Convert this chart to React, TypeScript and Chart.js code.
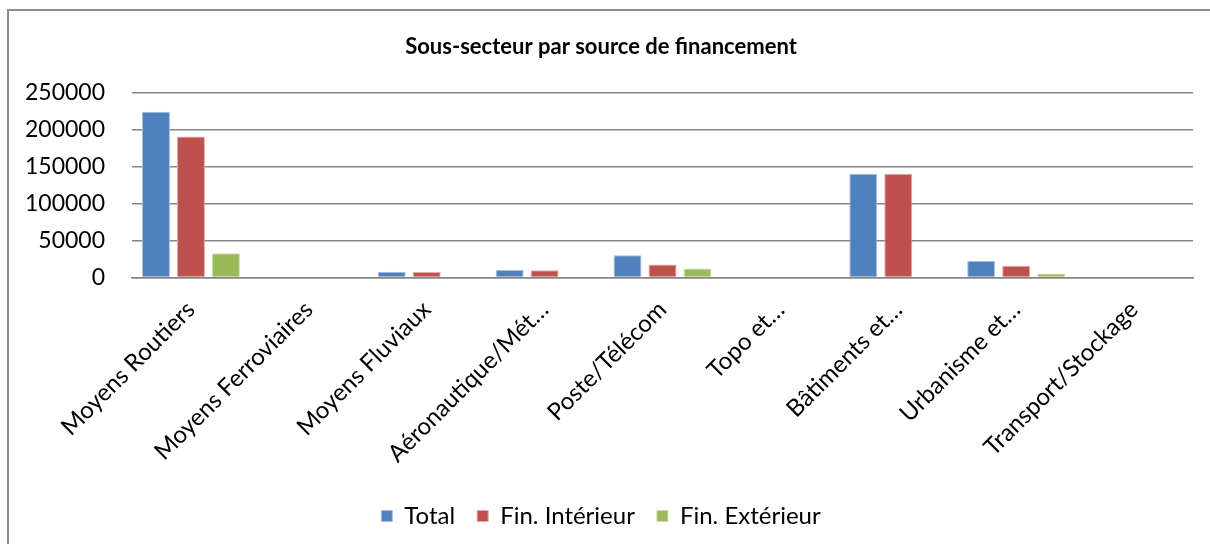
import React, { useEffect, useRef } from "react";
import { Chart, registerables } from "chart.js";

Chart.register(...registerables);

const categories = [
  "Moyens Routiers",
  "Moyens Ferroviaires",
  "Moyens Fluviaux",
  "Aéronautique/Mét…",
  "Poste/Télécom",
  "Topo et…",
  "Bâtiments et…",
  "Urbanisme et…",
  "Transport/Stockage",
];
const totalValues = [224000, 0, 7600, 10000, 30000, 0, 140000, 22200, 0];
const interieurValues = [190600, 0, 7500, 9800, 17700, 0, 140000, 15800, 0];
const exterieurValues = [32600, 0, 0, 0, 12200, 0, 0, 5400, 0];
const seriesNames = ["Total", "Fin. Intérieur", "Fin. Extérieur"];
const yTicks = [0, 50000, 100000, 150000, 200000, 250000];
const titleText = "Sous-secteur par source de financement";

const FONT = "Lato, 'Open Sans', sans-serif";

export default function App() {
  const ref = useRef<HTMLCanvasElement | null>(null);
  useEffect(() => {
    if (!ref.current) return;
    const chart = new Chart(ref.current, {
      type: "bar",
      data: {
        labels: categories,
        datasets: [
          {
            label: seriesNames[0],
            data: totalValues,
            backgroundColor: "#4F81BD",
            borderColor: "#A7BFDE",
            borderWidth: 1,
          },
          {
            label: seriesNames[1],
            data: interieurValues,
            backgroundColor: "#C0504D",
            borderColor: "#E3A8A6",
            borderWidth: 1,
          },
          {
            label: seriesNames[2],
            data: exterieurValues,
            backgroundColor: "#9BBB59",
            borderColor: "#CDDDAC",
            borderWidth: 1,
          },
        ],
      },
      options: {
        animation: false,
        responsive: false,
        maintainAspectRatio: false,
        datasets: {
          bar: { categoryPercentage: 0.89, barPercentage: 0.8 },
        },
        layout: { padding: { left: 0, right: 17, top: 0, bottom: 6 } },
        plugins: {
          title: {
            display: true,
            text: titleText,
            color: "#000",
            font: { family: FONT, size: 22, weight: "bold", lineHeight: 1.2 },
            padding: { top: 23, bottom: 32 },
          },
          legend: {
            position: "bottom",
            labels: {
              color: "#000",
              font: { family: FONT, size: 24 },
              boxWidth: 11,
              boxHeight: 11,
              padding: 22,
            },
          },
          tooltip: { enabled: false },
        },
        scales: {
          x: {
            grid: { display: false },
            border: { display: true, color: "#868686", width: 1.5 },
            ticks: {
              color: "#000",
              font: { family: FONT, size: 24 },
              minRotation: 45,
              maxRotation: 45,
              autoSkip: false,
              padding: 10,
            },
            afterFit: (s: any) => {
              s.height = 204.5;
            },
          },
          y: {
            min: 0,
            max: 250000,
            afterBuildTicks: (s: any) => {
              s.ticks = yTicks.map((v) => ({ value: v }));
            },
            grid: { color: "#868686", lineWidth: 1.5, drawTicks: false },
            border: { display: false },
            ticks: {
              color: "#000",
              font: { family: FONT, size: 23 },
              padding: 27,
              callback: (v: any) => String(v),
            },
            afterFit: (s: any) => {
              s.width = 123;
            },
          },
        },
      },
    });
    return () => chart.destroy();
  }, []);
  return (
    <div
      style={{
        position: "absolute",
        left: 7,
        top: 9,
        width: 1203,
        height: 535,
        borderTop: "2px solid #8c8c8c",
        borderLeft: "2px solid #8c8c8c",
        boxSizing: "border-box",
        background: "#fff",
      }}
    >
      <canvas ref={ref} width={1201} height={533} style={{ display: "block" }} />
    </div>
  );
}
